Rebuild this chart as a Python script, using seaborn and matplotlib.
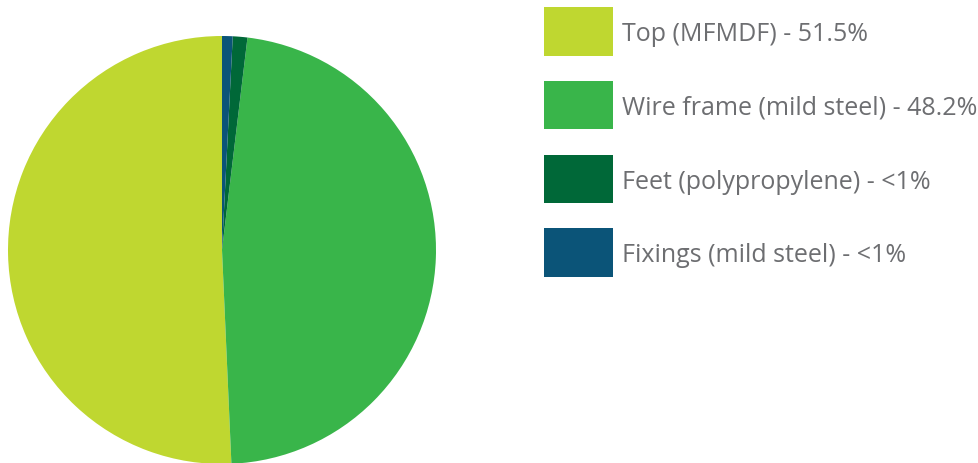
import matplotlib
matplotlib.use("Agg")
import matplotlib.pyplot as plt
import seaborn as sns
from matplotlib.patches import Rectangle

# data (slice shares) plus the legend text
componentes = ["Top (MFMDF)", "Wire frame (mild steel)", "Feet (polypropylene)", "Fixings (mild steel)"]
valores = [50.7, 47.4, 1.1, 0.8]
etiquetas = ["51.5%", "48.2%", "<1%", "<1%"]
colores = ["#bfd730", "#39b54a", "#006838", "#0b5478"]

sns.set_theme(style="white")
plt.rcParams['font.family'] = ['Open Sans', 'DejaVu Sans']

fig = plt.figure(figsize=(9.79, 4.63), dpi=100)

# pie: centre (222, 250) px, radius 214 px
W, H = 979, 463
cx, cy, r = 222, 250, 214
ax = fig.add_axes([(cx - r) / W, (H - cy - r) / H, 2 * r / W, 2 * r / H])
ax.pie(valores, colors=colores, startangle=90, counterclock=True,
       radius=1, wedgeprops=dict(linewidth=0))
ax.set_xlim(-1, 1)
ax.set_ylim(-1, 1)
ax.set_aspect('equal')
ax.axis('off')

# legend: coloured squares with text
lax = fig.add_axes([0, 0, 1, 1])
lax.set_xlim(0, W)
lax.set_ylim(H, 0)
lax.axis('off')
for i, (nombre, et, col) in enumerate(zip(componentes, etiquetas, colores)):
    y0 = 7 + i * 73.8
    lax.add_patch(Rectangle((544, y0), 69, 48.5, facecolor=col, edgecolor='none'))
    lax.text(622, y0 + 27.5, f"{nombre} - {et}", fontsize=18, color="#6d6e71",
             va='center', ha='left')

fig.savefig("out.png", dpi=100)
